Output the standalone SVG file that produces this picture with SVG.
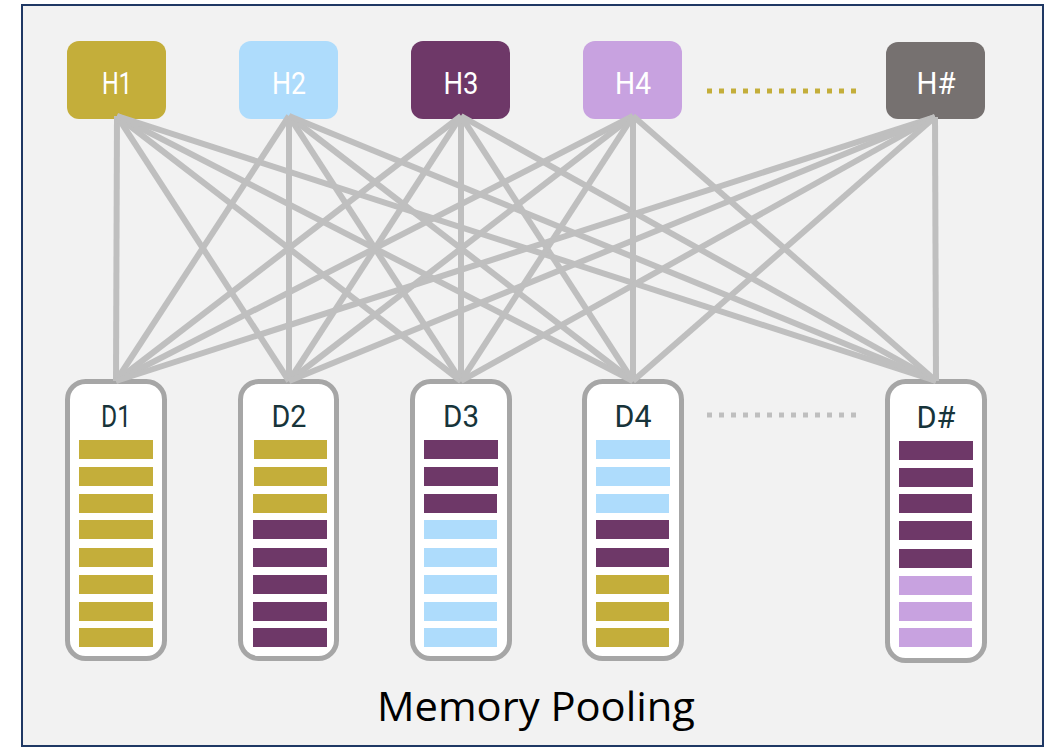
<svg xmlns="http://www.w3.org/2000/svg" width="1053" height="747" viewBox="0 0 1053 747">
  <defs>
    <style>
      .host { stroke: none; }
      .hlabel { font-family: Roboto, "DejaVu Sans", sans-serif; font-size: 32px; fill: #FFFFFF; text-anchor: middle; }
      .dev { fill: #FFFFFF; stroke: #A6A6A6; stroke-width: 5; }
      .dlabel { font-family: Roboto, "DejaVu Sans", sans-serif; font-size: 32px; fill: #17343A; text-anchor: middle; }
      .link { stroke: #BFBFBF; stroke-width: 6; fill: none; }
      .y { fill: #C4AE3A; }
      .b { fill: #AEDCFC; }
      .p { fill: #6E3868; }
      .l { fill: #C8A2E0; }
      .title { font-family: "Open Sans", "Liberation Sans", sans-serif; font-size: 40px; fill: #000000; text-anchor: middle; }
    </style>
  </defs>

  <!-- page background and frame -->
  <rect x="0" y="0" width="1053" height="747" fill="#FFFFFF"/>
  <rect x="22" y="5" width="1021" height="741" fill="#F2F2F2" stroke="#1F3864" stroke-width="2"/>

  <!-- hosts -->
  <g id="H1">
    <rect class="host" x="67" y="41" width="99" height="78" rx="12" fill="#C4AE3A"/>
    <text class="hlabel" x="117" y="94" textLength="30" lengthAdjust="spacingAndGlyphs">H1</text>
  </g>
  <g id="H2">
    <rect class="host" x="239" y="41" width="99" height="78" rx="12" fill="#AEDCFC"/>
    <text class="hlabel" x="289" y="94" textLength="34" lengthAdjust="spacingAndGlyphs">H2</text>
  </g>
  <g id="H3">
    <rect class="host" x="411" y="41" width="99" height="78" rx="12" fill="#6E3868"/>
    <text class="hlabel" x="461" y="94" textLength="35" lengthAdjust="spacingAndGlyphs">H3</text>
  </g>
  <g id="H4">
    <rect class="host" x="583" y="41" width="99" height="78" rx="12" fill="#C8A2E0"/>
    <text class="hlabel" x="633" y="94" textLength="36" lengthAdjust="spacingAndGlyphs">H4</text>
  </g>
  <g id="Hn">
    <rect class="host" x="886" y="42" width="99" height="77" rx="12" fill="#767170"/>
    <text class="hlabel" x="936" y="94" textLength="39" lengthAdjust="spacingAndGlyphs">H#</text>
  </g>

  <!-- ellipses between numbered and last items -->
  <line x1="707" y1="91" x2="858" y2="91" stroke="#C4AE3A" stroke-width="5" stroke-dasharray="5 7"/>
  <line x1="707" y1="415" x2="858" y2="415" stroke="#BFBFBF" stroke-width="5" stroke-dasharray="5 7"/>

  <!-- devices -->
  <g id="D1">
    <rect class="dev" x="67.5" y="381.5" width="97" height="277" rx="18"/>
    <text class="dlabel" x="116" y="427" textLength="30" lengthAdjust="spacingAndGlyphs">D1</text>
    <rect class="y" x="79" y="440" width="74" height="19"/>
    <rect class="y" x="79" y="467" width="74" height="19"/>
    <rect class="y" x="79" y="494" width="74" height="19"/>
    <rect class="y" x="79" y="520" width="74" height="19"/>
    <rect class="y" x="79" y="548" width="74" height="19"/>
    <rect class="y" x="79" y="575" width="74" height="19"/>
    <rect class="y" x="79" y="602" width="74" height="19"/>
    <rect class="y" x="79" y="628" width="74" height="19"/>
  </g>
  <g id="D2">
    <rect class="dev" x="240.5" y="381.5" width="96" height="277" rx="18"/>
    <text class="dlabel" x="289" y="427" textLength="35" lengthAdjust="spacingAndGlyphs">D2</text>
    <rect class="y" x="254" y="440" width="73" height="19"/>
    <rect class="y" x="254" y="467" width="73" height="19"/>
    <rect class="y" x="253" y="494" width="74" height="19"/>
    <rect class="p" x="253" y="520" width="74" height="19"/>
    <rect class="p" x="253" y="548" width="74" height="19"/>
    <rect class="p" x="253" y="575" width="74" height="19"/>
    <rect class="p" x="253" y="602" width="74" height="19"/>
    <rect class="p" x="253" y="628" width="74" height="19"/>
  </g>
  <g id="D3">
    <rect class="dev" x="412.5" y="381.5" width="97" height="277" rx="18"/>
    <text class="dlabel" x="461" y="427" textLength="36" lengthAdjust="spacingAndGlyphs">D3</text>
    <rect class="p" x="424" y="440" width="74" height="19"/>
    <rect class="p" x="424" y="467" width="74" height="19"/>
    <rect class="p" x="424" y="494" width="73" height="19"/>
    <rect class="b" x="424" y="520" width="73" height="19"/>
    <rect class="b" x="424" y="548" width="73" height="19"/>
    <rect class="b" x="424" y="575" width="73" height="19"/>
    <rect class="b" x="424" y="602" width="73" height="19"/>
    <rect class="b" x="424" y="628" width="73" height="19"/>
  </g>
  <g id="D4">
    <rect class="dev" x="584.5" y="381.5" width="97" height="277" rx="18"/>
    <text class="dlabel" x="633" y="427" textLength="37" lengthAdjust="spacingAndGlyphs">D4</text>
    <rect class="b" x="596" y="440" width="74" height="19"/>
    <rect class="b" x="596" y="467" width="74" height="19"/>
    <rect class="b" x="596" y="494" width="73" height="19"/>
    <rect class="p" x="596" y="520" width="73" height="19"/>
    <rect class="p" x="596" y="548" width="73" height="19"/>
    <rect class="y" x="596" y="575" width="73" height="19"/>
    <rect class="y" x="596" y="602" width="73" height="19"/>
    <rect class="y" x="596" y="628" width="73" height="19"/>
  </g>
  <g id="Dn">
    <rect class="dev" x="887.5" y="381.5" width="97" height="279" rx="18"/>
    <text class="dlabel" x="936" y="428" textLength="39" lengthAdjust="spacingAndGlyphs">D#</text>
    <rect class="p" x="899" y="441" width="74" height="19"/>
    <rect class="p" x="899" y="468" width="74" height="19"/>
    <rect class="p" x="899" y="494" width="73" height="19"/>
    <rect class="p" x="899" y="521" width="73" height="19"/>
    <rect class="p" x="899" y="549" width="73" height="19"/>
    <rect class="l" x="899" y="576" width="73" height="19"/>
    <rect class="l" x="899" y="602" width="73" height="19"/>
    <rect class="l" x="899" y="628" width="73" height="19"/>
  </g>

  <!-- every host links to every device -->
  <g id="connectors" class="link">
    <line x1="117" y1="116" x2="116" y2="381"/>
    <line x1="117" y1="116" x2="289" y2="381"/>
    <line x1="117" y1="116" x2="461" y2="381"/>
    <line x1="117" y1="116" x2="633" y2="381"/>
    <line x1="117" y1="116" x2="936" y2="381"/>

    <line x1="289" y1="116" x2="116" y2="381"/>
    <line x1="289" y1="116" x2="289" y2="381"/>
    <line x1="289" y1="116" x2="461" y2="381"/>
    <line x1="289" y1="116" x2="633" y2="381"/>
    <line x1="289" y1="116" x2="936" y2="381"/>

    <line x1="461" y1="116" x2="116" y2="381"/>
    <line x1="461" y1="116" x2="289" y2="381"/>
    <line x1="461" y1="116" x2="461" y2="381"/>
    <line x1="461" y1="116" x2="633" y2="381"/>
    <line x1="461" y1="116" x2="936" y2="381"/>

    <line x1="633" y1="116" x2="116" y2="381"/>
    <line x1="633" y1="116" x2="289" y2="381"/>
    <line x1="633" y1="116" x2="461" y2="381"/>
    <line x1="633" y1="116" x2="633" y2="381"/>
    <line x1="633" y1="116" x2="936" y2="381"/>

    <line x1="935" y1="117" x2="116" y2="381"/>
    <line x1="935" y1="117" x2="289" y2="381"/>
    <line x1="935" y1="117" x2="461" y2="381"/>
    <line x1="935" y1="117" x2="633" y2="381"/>
    <line x1="935" y1="117" x2="936" y2="381"/>
  </g>

  <text class="title" x="536" y="721" textLength="318" lengthAdjust="spacingAndGlyphs">Memory Pooling</text>
</svg>
